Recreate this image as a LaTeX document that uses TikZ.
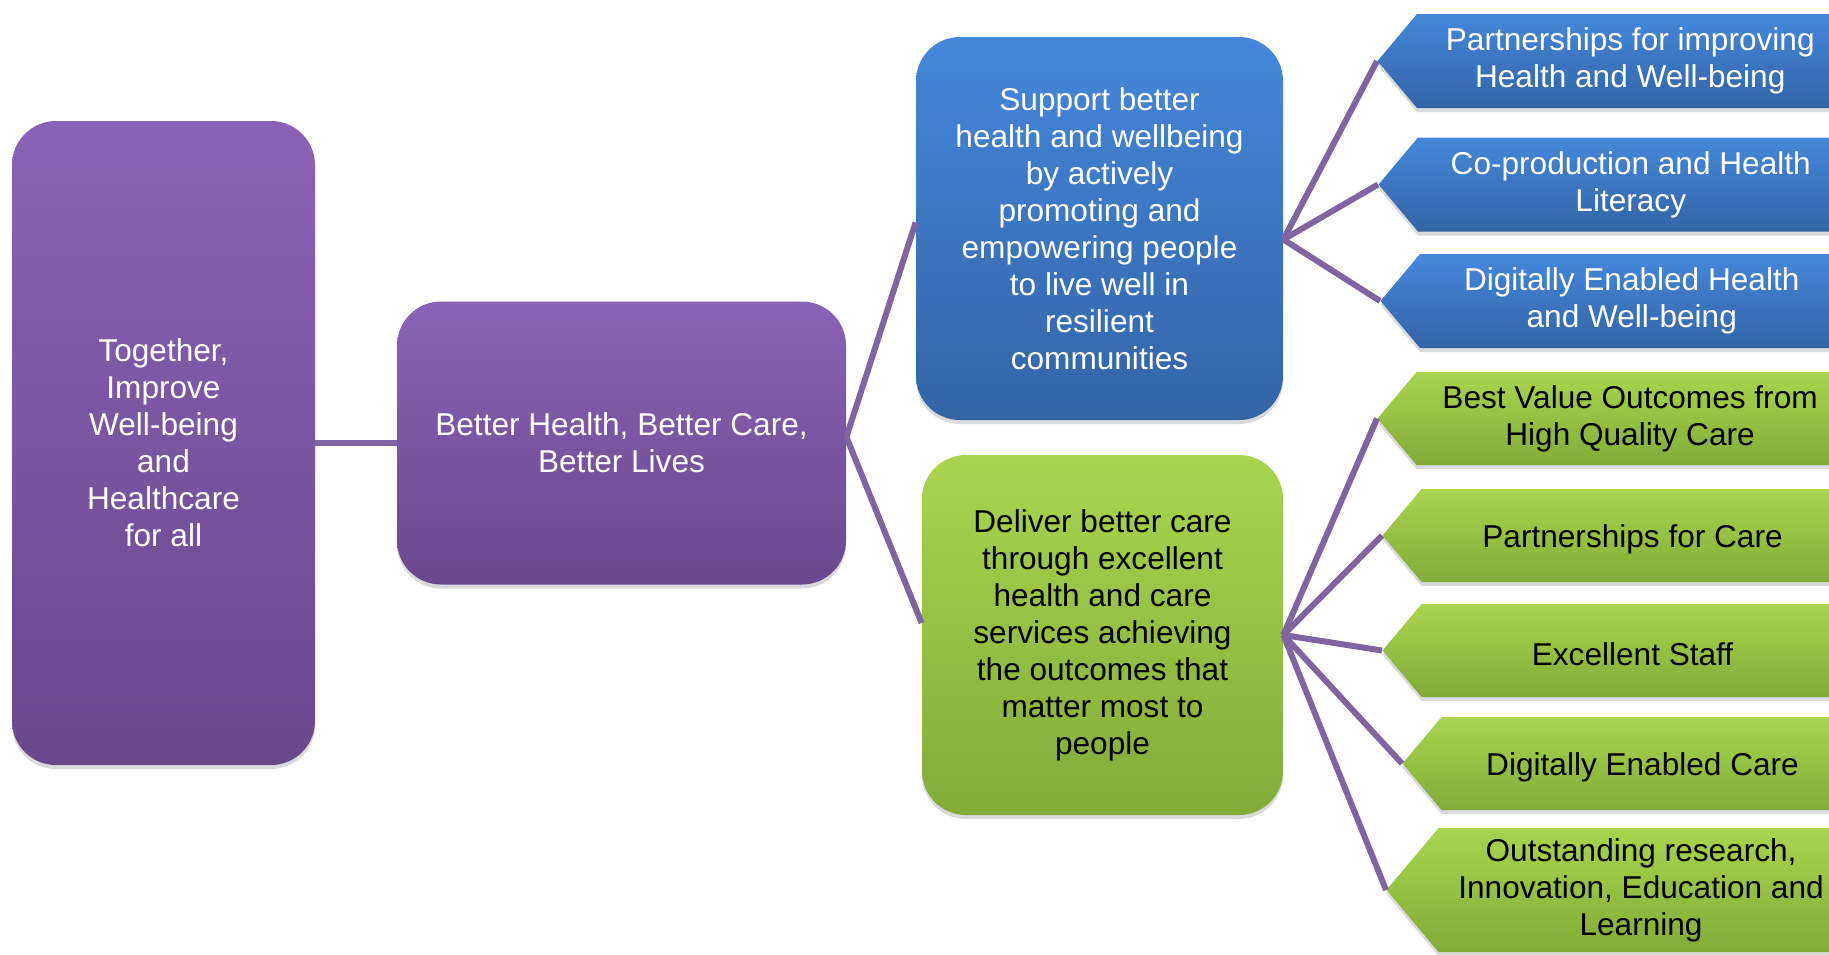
\documentclass[tikz,border=0pt]{standalone}
\usepackage{fontspec}
\setmainfont{Liberation Sans}
\usetikzlibrary{shapes.symbols,shadows}

\definecolor{purpletop}{RGB}{137,99,182}
\definecolor{purplebot}{RGB}{103,73,139}
\definecolor{bluetop}{RGB}{68,136,218}
\definecolor{bluebot}{RGB}{51,100,166}
\definecolor{greentop}{RGB}{170,212,78}
\definecolor{greenbot}{RGB}{132,170,56}
\definecolor{linkpurple}{RGB}{128,100,162}

\tikzset{
	txt/.style={align=center, font=\fontsize{15.8}{18.5}\selectfont, inner sep=0pt, execute at begin node=\rule{0pt}{15pt}},
	softshadow/.style={drop shadow={shadow xshift=0pt, shadow yshift=-2pt, opacity=0.3}},
	roundbox/.style={txt, rounded corners=22pt, softshadow},
	purplebox/.style={roundbox, top color=purpletop, bottom color=purplebot, text=white},
	bluebox/.style={roundbox, top color=bluetop, bottom color=bluebot, text=white},
	greenbox/.style={roundbox, top color=greentop, bottom color=greenbot, text=black},
	chevron/.style={txt, signal, signal to=west, signal pointer angle=100, anchor=west, minimum height=47pt, softshadow},
	bluechev/.style={chevron, top color=bluetop, bottom color=bluebot, text=white},
	greenchev/.style={chevron, top color=greentop, bottom color=greenbot, text=black},
	link/.style={draw=linkpurple, line width=3pt}
}

\begin{document}
\begin{tikzpicture}[x=0.5pt, y=-0.5pt]
	\useasboundingbox (0, 0) rectangle (1829, 954);
	\clip (0, 0) rectangle (1829, 954);

	\node[purplebox, minimum width=151.5pt, minimum height=322pt] (goal) at (163.5, 443) {Together,\\Improve\\Well-being\\and\\Healthcare\\for all};
	\node[purplebox, minimum width=224.5pt, minimum height=141.5pt] (vision) at (621.5, 443) {Better Health, Better Care,\\Better Lives};

	\node[bluebox, minimum width=183.5pt, minimum height=191.5pt] (support) at (1099.5, 228.5) {Support better\\health and wellbeing\\by actively\\promoting and\\empowering people\\to live well in\\resilient\\communities};
	\node[greenbox, minimum width=180.5pt, minimum height=180pt] (deliver) at (1102.5, 635) {Deliver better care\\through excellent\\health and care\\services achieving\\the outcomes that\\matter most to\\people};

	\node[bluechev, minimum width=233pt] (bpart) at (1377, 61) {Partnerships for improving\\Health and Well-being};
	\node[bluechev, minimum width=232.5pt] (bcoprod) at (1378, 184.5) {Co-production and Health\\Literacy};
	\node[bluechev, minimum width=231.5pt] (bdigital) at (1380, 301) {Digitally Enabled Health\\and Well-being};

	\node[greenchev, minimum width=233pt, minimum height=46.5pt] (gvalue) at (1377, 418.5) {Best Value Outcomes from\\High Quality Care};
	\node[greenchev, minimum width=230.5pt, minimum height=46.5pt] (gpart) at (1382, 535.5) {Partnerships for Care};
	\node[greenchev, minimum width=230.5pt, minimum height=46.5pt] (gstaff) at (1382, 650.5) {Excellent Staff};
	\node[greenchev, minimum width=220.5pt, minimum height=46.5pt] (gdigital) at (1402, 763.5) {Digitally Enabled Care};
	\node[greenchev, minimum width=228.5pt, minimum height=62pt] (gresearch) at (1386, 890) {Outstanding research,\\Innovation, Education and\\Learning};

	\draw[link] (goal.east) -- (vision.west);
	\draw[link] ([yshift=3pt]vision.east) -- ([yshift=3pt]support.west);
	\draw[link] ([yshift=3pt]vision.east) -- ([yshift=6pt]deliver.west);

	\draw[link] ([yshift=-5.5pt]support.east) -- (bpart.west);
	\draw[link] ([yshift=-5.5pt]support.east) -- (bcoprod.west);
	\draw[link] ([yshift=-5.5pt]support.east) -- (bdigital.west);

	\draw[link] (deliver.east) -- (gvalue.west);
	\draw[link] (deliver.east) -- (gpart.west);
	\draw[link] (deliver.east) -- (gstaff.west);
	\draw[link] (deliver.east) -- (gdigital.west);
	\draw[link] (deliver.east) -- (gresearch.west);
\end{tikzpicture}
\end{document}
